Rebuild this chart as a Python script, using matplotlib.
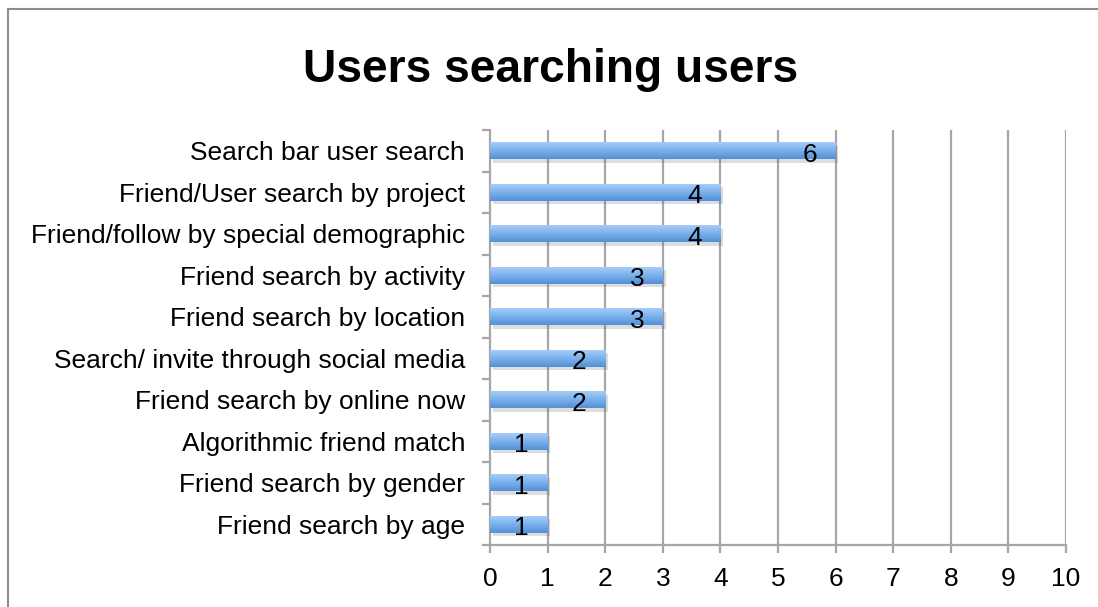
import numpy as np
import matplotlib
matplotlib.use("Agg")
import matplotlib.pyplot as plt
from matplotlib.colors import LinearSegmentedColormap
from matplotlib.patches import Rectangle
import matplotlib.patheffects as pe

plt.rcParams["font.family"] = ["Liberation Sans", "DejaVu Sans"]

# data (top to bottom as shown)
categories = [
    "Search bar user search",
    "Friend/User search by project",
    "Friend/follow by special demographic",
    "Friend search by activity",
    "Friend search by location",
    "Search/ invite through social media",
    "Friend search by online now",
    "Algorithmic friend match",
    "Friend search by gender",
    "Friend search by age",
]
counts = [6, 4, 4, 3, 3, 2, 2, 1, 1, 1]
x_ticks = list(range(0, 11))

n = len(categories)
ypos = np.arange(n)[::-1]

fig = plt.figure(figsize=(10.98, 6.07), dpi=100, facecolor="white")
ax = fig.add_axes([490 / 1098, 1 - 545 / 607, 576 / 1098, 415 / 607])

grid_col = "#a6a6a6"
for t in x_ticks[1:]:
    ax.axvline(t, color=grid_col, lw=1.6, zorder=0)

bar_h = 0.41
bars = ax.barh(ypos, counts, height=bar_h, color="#7fb0ea", zorder=2,
               path_effects=[pe.SimplePatchShadow(offset=(2, -2.5), shadow_rgbFace="#666666", alpha=0.22),
                             pe.Normal()])

# vertical gradient fill per bar
cmap = LinearSegmentedColormap.from_list("barblue", ["#5290d8", "#7db2ec", "#abcff9"])
grad = np.linspace(0, 1, 64).reshape(-1, 1)
for b, v, y in zip(bars, counts, ypos):
    im = ax.imshow(grad, extent=[0, v, y - bar_h / 2, y + bar_h / 2], origin="lower",
                   aspect="auto", cmap=cmap, zorder=3, interpolation="bilinear")
    im.set_clip_path(b)
    ax.text(v - 0.45, y - 0.04, str(v), ha="center", va="center_baseline", fontsize=19,
            color="black", zorder=4)

ax.set_xlim(0, 10)
ax.set_ylim(-0.5, n - 0.5)

ax.set_xticks(x_ticks)
ax.set_xticklabels([str(t) for t in x_ticks], fontsize=19)
ax.tick_params(axis="x", length=6, width=1.6, color=grid_col, pad=10)

ax.set_yticks(ypos)
ax.set_yticklabels(categories, fontsize=19)
ax.set_yticks(np.arange(-0.5, n, 1.0), minor=True)
ax.tick_params(axis="y", which="major", length=0, pad=18)
ax.tick_params(axis="y", which="minor", length=6, width=1.6, color=grid_col)

for s in ["top", "right"]:
    ax.spines[s].set_visible(False)
for s in ["left", "bottom"]:
    ax.spines[s].set_color(grid_col)
    ax.spines[s].set_linewidth(1.6)

fig.text(551 / 1098, 1 - 82 / 607, "Users searching users", ha="center", va="baseline",
         fontsize=33.2, fontweight="bold")

# outer chart frame
fig.patches.append(Rectangle((8 / 1098, -0.1), 1.2, 1 - 9 / 607 + 0.1, transform=fig.transFigure,
                             fill=False, edgecolor="#8c8c8c", lw=1.5, zorder=-1))

fig.savefig("out.png", dpi=100, facecolor="white")
